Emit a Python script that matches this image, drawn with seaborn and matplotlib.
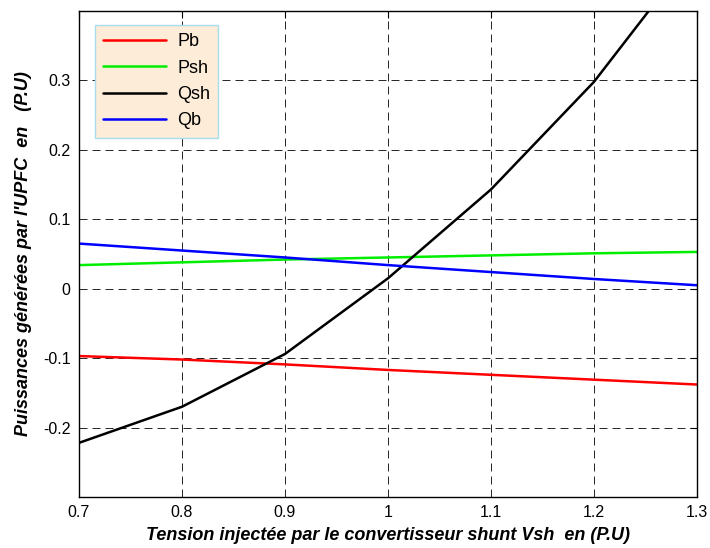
import pandas as pd
import matplotlib
matplotlib.use("Agg")
import matplotlib.pyplot as plt
import seaborn as sns

# injected shunt voltage (P.U)
vsh = [0.7, 0.8, 0.9, 1.0, 1.1, 1.2, 1.3]

pb = [-0.097, -0.102, -0.109, -0.117, -0.124, -0.131, -0.138]
psh = [0.034, 0.038, 0.042, 0.045, 0.048, 0.051, 0.053]
qsh = [-0.222, -0.170, -0.094, 0.015, 0.143, 0.298, 0.490]
qb = [0.065, 0.055, 0.045, 0.034, 0.024, 0.014, 0.005]

series = {"Pb": pb, "Psh": psh, "Qsh": qsh, "Qb": qb}
colors = {"Pb": "#ff0000", "Psh": "#00ee00", "Qsh": "#000000", "Qb": "#0000ff"}

df = pd.DataFrame(
    [(x, name, v) for name, vals in series.items() for x, v in zip(vsh, vals)],
    columns=["vsh", "serie", "valeur"],
)

sns.set_theme(style="white")
plt.rcParams["font.family"] = ["Liberation Sans", "DejaVu Sans"]
plt.rcParams["text.color"] = "black"
plt.rcParams["axes.labelcolor"] = "black"

fig = plt.figure(figsize=(7.1, 5.48), dpi=100)
ax = fig.add_axes([79 / 710, 1 - 497 / 548, (697 - 79) / 710, (497 - 11) / 548])

sns.lineplot(data=df, x="vsh", y="valeur", hue="serie", palette=colors,
             hue_order=list(series.keys()), linewidth=1.8, ax=ax, sort=False)

ax.set_xlim(0.7, 1.3)
ax.set_ylim(-0.3, 0.4)
ax.set_xticks([0.7, 0.8, 0.9, 1.0, 1.1, 1.2, 1.3])
ax.set_xticklabels(["0.7", "0.8", "0.9", "1", "1.1", "1.2", "1.3"])
ax.set_yticks([-0.2, -0.1, 0.0, 0.1, 0.2, 0.3])
ax.set_yticklabels(["-0.2", "-0.1", "0", "0.1", "0.2", "0.3"])
ax.grid(True, color="black", linestyle=(0, (9.6, 6)), linewidth=0.6)
ax.tick_params(direction="in", top=True, right=True, length=5, width=0.8,
               labelsize=11.5, colors="black", pad=6)
for s in ax.spines.values():
    s.set_color("black")
    s.set_linewidth(1.0)

ax.set_xlabel("Tension injectée par le convertisseur shunt Vsh  en (P.U)",
              fontsize=13, fontweight="bold", fontstyle="italic", labelpad=5)
ax.set_ylabel("Puissances générées par l'UPFC  en   (P.U)",
              fontsize=13, fontweight="bold", fontstyle="italic", labelpad=8)

leg = ax.legend(loc="upper left", bbox_to_anchor=(0.026, 0.971), fontsize=13,
                frameon=True, fancybox=False, handlelength=3.5,
                borderpad=0.45, labelspacing=0.52, handletextpad=0.6,
                borderaxespad=0)
leg.get_frame().set_facecolor("#fcecd8")
leg.get_frame().set_edgecolor("#a8dcee")
leg.get_frame().set_alpha(1)
for t in leg.get_texts():
    t.set_color("black")

fig.savefig("out.png", dpi=100)
plt.close(fig)
